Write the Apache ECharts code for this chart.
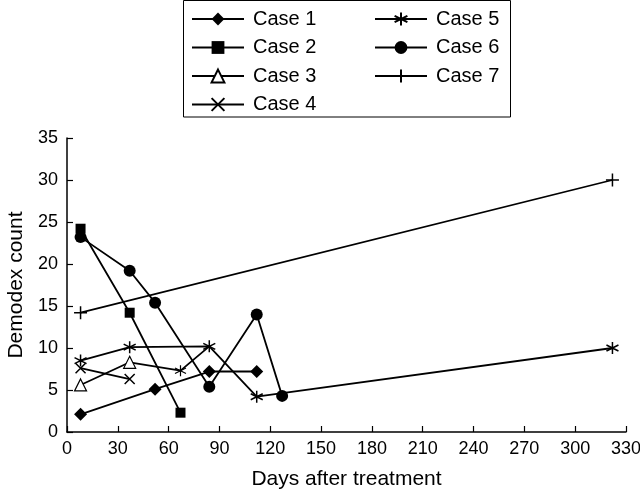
<!DOCTYPE html>
<html><head><meta charset="utf-8">
<script src="https://cdn.jsdelivr.net/npm/echarts@6/dist/echarts.min.js"></script>
<style>html,body{margin:0;padding:0;background:#fff}#c{width:640px;height:492px}</style>
</head><body><div id="c"></div>
<script>
const seriesNames = ['Case 1','Case 2','Case 3','Case 4','Case 5','Case 6','Case 7'];
const case1 = [[8,2.1],[52,5.1],[84,7.2],[112,7.2]];
const case2 = [[8,24.2],[37,14.2],[67,2.3]];
const case3 = [[8,5.6],[37,8.3],[67,7.3],[84,10.2]];
const case4 = [[8,7.6],[37,6.3]];
const case5 = [[8,8.5],[37,10.1],[84,10.2],[112,4.2],[322,10]];
const case6 = [[8,23.2],[37,19.2],[52,15.4],[84,5.4],[112,14],[127,4.3]];
const case7 = [[8,14.2],[322,30]];
const xTicks = [0,30,60,90,120,150,180,210,240,270,300,330];
const yTicks = [0,5,10,15,20,25,30,35];

const STAR = 'path://M5,0L5,10M0.67,2.5L9.33,7.5M0.67,7.5L9.33,2.5';
const CROSS = 'path://M0,0L10,10M10,0L0,10';
const PLUS = 'path://M5,0L5,10M0,5L10,5';

const lineStyle = {color:'#000', width:1.8};
const filled = {color:'#000'};
const stroked = {color:'#fff', borderColor:'#000', borderWidth:1.5};

const case3Data = case3.map((p,i)=> i<2 ? p : {value:p, symbol: i===2 ? STAR : 'none', symbolSize: 11});

const defs = [
  {data:case1, symbol:'diamond', symbolSize:13, itemStyle:filled},
  {data:case2, symbol:'rect', symbolSize:10, itemStyle:filled},
  {data:case3Data, symbol:'triangle', symbolSize:12, itemStyle:{color:'#fff', borderColor:'#000', borderWidth:1.2}},
  {data:case4, symbol:CROSS, symbolSize:10, itemStyle:stroked},
  {data:case5, symbol:STAR, symbolSize:12, itemStyle:stroked},
  {data:case6, symbol:'circle', symbolSize:12, itemStyle:filled},
  {data:case7, symbol:PLUS, symbolSize:13, itemStyle:stroked}
];

const series = defs.map((d,i)=>({
  name: seriesNames[i], type:'line', data:d.data, symbol:d.symbol, symbolSize:d.symbolSize,
  showAllSymbol:true, itemStyle:d.itemStyle, lineStyle:lineStyle, animation:false,
  emphasis:{disabled:true}
}));

const font = 'Liberation Sans, Arial, Helvetica, sans-serif';
const legendCommon = {
  orient:'vertical', itemWidth:52, itemHeight:16, itemGap:8.5, padding:0,
  lineStyle:{width:2, color:'#000'},
  textStyle:{fontSize:20, color:'#000', fontFamily:font, padding:[0,0,0,4]},
  selectedMode:false, inactiveColor:'#000'
};

const chart = echarts.init(document.getElementById('c'), null, {renderer:'canvas'});
chart.setOption({
  animation:false,
  backgroundColor:'#fff',
  grid:{left:67, right:14, top:138, bottom:60, containLabel:false, outerBoundsMode:'none'},
  legend:[
    Object.assign({}, legendCommon, {left:191, top:9, data:seriesNames.slice(0,4)}),
    Object.assign({}, legendCommon, {left:374, top:9, data:seriesNames.slice(4)})
  ],
  graphic:[{type:'rect', shape:{x:183.5, y:0.5, width:327, height:116.5}, style:{fill:'none', stroke:'#000', lineWidth:1}, silent:true, z:-1}],
  xAxis:{
    type:'value', min:xTicks[0], max:xTicks[xTicks.length-1], interval:30,
    name:'Days after treatment', nameLocation:'middle', nameGap:37,
    nameTextStyle:{fontSize:21, color:'#000', fontFamily:font},
    axisLine:{lineStyle:{color:'#000', width:1.5}},
    axisTick:{inside:true, length:6, lineStyle:{color:'#000', width:1.2}},
    axisLabel:{fontSize:18, color:'#000', fontFamily:font, margin:8},
    splitLine:{show:false}
  },
  yAxis:{
    type:'value', min:yTicks[0], max:yTicks[yTicks.length-1], interval:5,
    name:'Demodex count', nameLocation:'middle', nameGap:40,
    nameTextStyle:{fontSize:21, color:'#000', fontFamily:font},
    axisLine:{show:true, lineStyle:{color:'#000', width:1.5}},
    axisTick:{show:true, inside:true, length:6, lineStyle:{color:'#000', width:1.2}},
    axisLabel:{fontSize:18, color:'#000', fontFamily:font, margin:9},
    splitLine:{show:false}
  },
  series: series
});
</script>
</body></html>
